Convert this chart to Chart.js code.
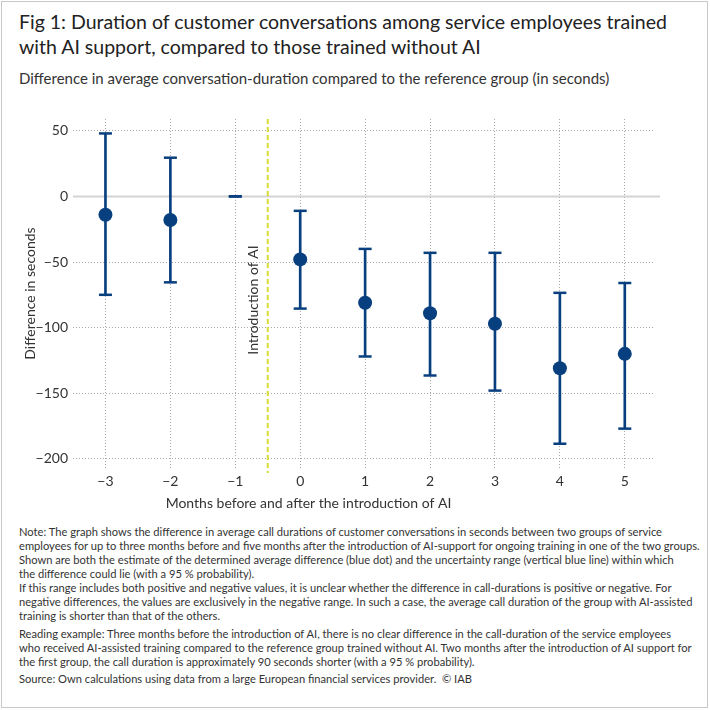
<!DOCTYPE html>
<html>
<head>
<meta charset="utf-8">
<script src="https://cdn.jsdelivr.net/npm/chart.js@4"></script>
<style>
  html, body { margin: 0; padding: 0; background: #fff; }
  body { width: 710px; height: 710px; position: relative; overflow: hidden; font-family: "Source Sans Pro", Lato, sans-serif; color: #222; }
  .frame { position: absolute; left: 1px; top: 1px; width: 705px; height: 705px; border: 1px solid #c8c8c8; }
  .title { position: absolute; left: 19px; top: 9px; font-size: 19.5px; line-height: 25px; white-space: nowrap; }
  .subtitle { position: absolute; left: 19px; top: 69px; font-size: 15px; line-height: 18px; color: #333; white-space: nowrap; }
  .notes { position: absolute; left: 19px; top: 525px; font-size: 11.15px; line-height: 14px; color: #333; white-space: nowrap; }
  .notes p { margin: 0 0 3.5px 0; }
  #chart { position: absolute; left: 0; top: 100px; }
</style>
</head>
<body>
<div class="frame"></div>
<div class="title">Fig 1: Duration of customer conversations among service employees trained<br>with AI support, compared to those trained without AI</div>
<div class="subtitle">Difference in average conversation-duration compared to the reference group (in seconds)</div>
<canvas id="chart" width="710" height="420"></canvas>
<div class="notes">
  <p>Note: The graph shows the difference in average call durations of customer conversations in seconds between two groups of service<br>
  employees for up to three months before and five months after the introduction of AI-support for ongoing training in one of the two groups.<br>
  Shown are both the estimate of the determined average difference (blue dot) and the uncertainty range (vertical blue line) within which<br>
  the difference could lie (with a 95 % probability).<br>
  If this range includes both positive and negative values, it is unclear whether the difference in call-durations is positive or negative. For<br>
  negative differences, the values are exclusively in the negative range. In such a case, the average call duration of the group with AI-assisted<br>
  training is shorter than that of the others.</p>
  <p>Reading example: Three months before the introduction of AI, there is no clear difference in the call-duration of the service employees<br>
  who received AI-assisted training compared to the reference group trained without AI. Two months after the introduction of AI support for<br>
  the first group, the call duration is approximately 90 seconds shorter (with a 95 % probability).</p>
  <p>Source: Own calculations using data from a large European financial services provider.&nbsp; © IAB</p>
</div>
<script>
// months relative to the introduction of AI (-1 is the reference month)
const months = [-3, -2, -1, 0, 1, 2, 3, 4, 5];
const estimates = [-14, -18, null, -48, -81, -89, -97, -131, -120];
const upper = [48, 29.5, 0, -11, -40, -43, -43, -73.5, -66];
const lower = [-75, -65.5, 0, -85.5, -122, -136.5, -148, -188.5, -177];

const introMonth = -0.5;
const introLabel = 'Introduction of AI';
const xTitle = 'Months before and after the introduction of AI';

const blue = '#083f7f';
const font = "'Source Sans Pro', Lato, sans-serif";

const minus = v => String(v).replace('-', '\u2212');

const refLines = {
    id: 'refLines',
    beforeDatasetsDraw(chart) {
        const ctx = chart.ctx;
        const area = chart.chartArea;
        const x = chart.scales.x;
        const y = chart.scales.y;
        ctx.save();
        // solid zero line
        ctx.strokeStyle = '#d4d4d4';
        ctx.lineWidth = 2;
        ctx.beginPath();
        ctx.moveTo(area.left, y.getPixelForValue(0));
        ctx.lineTo(area.right + 6, y.getPixelForValue(0));
        ctx.stroke();
        // dashed line for the introduction of AI
        const xi = x.getPixelForValue(introMonth);
        ctx.strokeStyle = '#d6dd32';
        ctx.lineWidth = 2;
        ctx.setLineDash([5, 3]);
        ctx.beginPath();
        ctx.moveTo(xi, area.top);
        ctx.lineTo(xi, area.bottom + 5);
        ctx.stroke();
        ctx.setLineDash([]);
        ctx.fillStyle = '#333';
        ctx.font = '14px ' + font;
        ctx.textAlign = 'center';
        ctx.textBaseline = 'middle';
        // x axis title, sits a bit left of centre like the original
        ctx.fillText(xTitle, (area.left + area.right) / 2 - 55, area.bottom + 35);
        ctx.translate(xi - 14, y.getPixelForValue(-79));
        ctx.rotate(-Math.PI / 2);
        ctx.fillText(introLabel, 0, 0);
        ctx.restore();
    }
};

new Chart(document.getElementById('chart'), {
    type: 'bar',
    data: {
        datasets: [
            {
                type: 'scatter',
                data: months.map((m, i) => ({ x: m, y: estimates[i] })),
                pointRadius: 7,
                backgroundColor: blue,
                borderColor: blue,
                borderWidth: 0
            },
            {
                type: 'scatter',
                data: months.map((m, i) => ({ x: m, y: upper[i] })),
                pointStyle: 'line',
                pointRadius: 6.5,
                borderColor: blue,
                borderWidth: 2.5
            },
            {
                type: 'scatter',
                data: months.map((m, i) => ({ x: m, y: lower[i] })),
                pointStyle: 'line',
                pointRadius: 6.5,
                borderColor: blue,
                borderWidth: 2.5
            },
            {
                type: 'bar',
                data: months.map((m, i) => ({ x: m, y: [lower[i], upper[i]] })),
                barThickness: 2,
                backgroundColor: blue,
                borderWidth: 0
            }
        ]
    },
    options: {
        responsive: false,
        animation: false,
        events: [],
        layout: { padding: { top: 19, right: 56, bottom: 0, left: 0 } },
        plugins: { legend: { display: false }, tooltip: { enabled: false } },
        scales: {
            x: {
                type: 'linear',
                min: -3.5,
                max: 5.45,
                offset: false,
                afterFit: s => { s.height = 52; },
                ticks: {
                    stepSize: 1,
                    includeBounds: false,
                    padding: 5,
                    color: '#333',
                    font: { family: font, size: 14 },
                    callback: v => minus(v)
                },
                grid: { offset: false, drawTicks: false, color: '#a8a8a8', lineWidth: 1 },
                border: { display: false, dash: [1, 2] }
            },
            y: {
                type: 'linear',
                min: -207,
                max: 59,
                afterFit: s => { s.width = 73; },
                ticks: {
                    stepSize: 50,
                    includeBounds: false,
                    padding: 5,
                    color: '#333',
                    font: { family: font, size: 14 },
                    callback: v => minus(v)
                },
                grid: {
                    drawTicks: false,
                    lineWidth: 1,
                    color: c => (c.tick && c.tick.value === 0) ? 'rgba(0,0,0,0)' : '#a8a8a8'
                },
                border: { display: false, dash: [1, 2] },
                title: {
                    display: true,
                    text: 'Difference in seconds',
                    color: '#333',
                    font: { family: font, size: 14 },
                    padding: { top: 22, bottom: 0 }
                }
            }
        }
    },
    plugins: [refLines]
});
</script>
</body>
</html>
